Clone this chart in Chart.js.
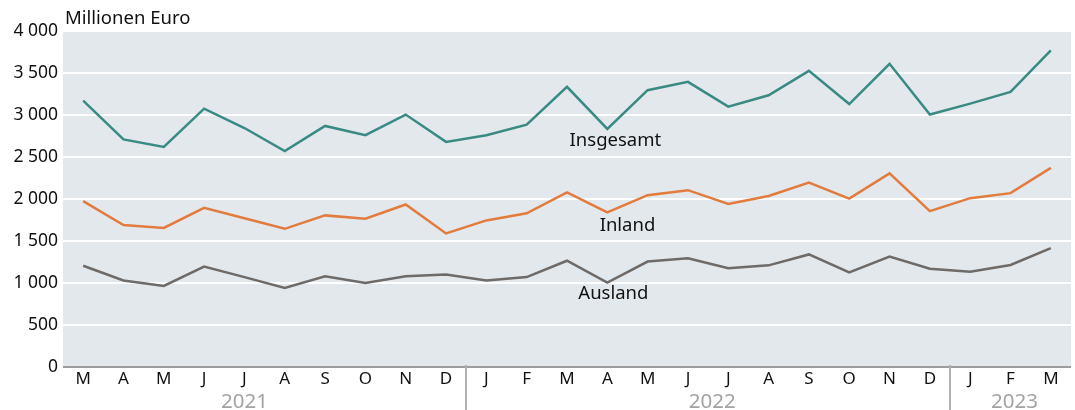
<!DOCTYPE html>
<html>
<head>
<meta charset="utf-8">
<script src="https://cdn.jsdelivr.net/npm/chart.js@4"></script>
<style>
  html, body { margin: 0; padding: 0; background: #fff; }
  #wrap { width: 1075px; height: 410px; position: relative; }
</style>
</head>
<body>
<div id="wrap"><canvas id="myChart" width="1075" height="410"></canvas></div>
<script>
// Monate März 2021 bis März 2023
var labels = ["M","A","M","J","J","A","S","O","N","D","J","F","M","A","M","J","J","A","S","O","N","D","J","F","M"];
// Jahre
var years = ["2021", "2022", "2023"];
// Insgesamt (Millionen Euro)
var insgesamt = [3170, 2710, 2620, 3075, 2845, 2570, 2870, 2760, 3005, 2680, 2760, 2885,
                 3335, 2835, 3295, 3395, 3100, 3235, 3525, 3130, 3610, 3005, 3135, 3275, 3770];
// Inland
var inland = [1975, 1690, 1655, 1895, 1770, 1645, 1805, 1765, 1935, 1590, 1745, 1830,
              2080, 1840, 2045, 2105, 1940, 2035, 2195, 2005, 2305, 1855, 2010, 2070, 2370];
// Ausland
var ausland = [1205, 1030, 965, 1195, 1070, 940, 1080, 1000, 1080, 1100, 1030, 1070,
               1265, 1005, 1255, 1295, 1175, 1210, 1340, 1125, 1315, 1170, 1135, 1215, 1415];
// y-Achse
var yTicks = [0, 500, 1000, 1500, 2000, 2500, 3000, 3500, 4000];

var FONT = "'Noto Sans', 'Open Sans', sans-serif";

function fmt(v) {
    return String(v).replace(/\B(?=(\d{3})+(?!\d))/g, ' ');
}

var deko = {
    id: 'deko',
    beforeDraw: function (chart) {
        var c = chart.ctx, a = chart.chartArea;
        c.save();
        c.fillStyle = '#e3e8ec';
        c.fillRect(a.left, a.top, a.right - a.left, a.bottom - a.top);
        c.restore();
    },
    afterDatasetsDraw: function (chart) {
        var c = chart.ctx, x = chart.scales.x, y = chart.scales.y, a = chart.chartArea;
        c.save();
        // Einheit
        c.font = '18.5px ' + FONT;
        c.fillStyle = '#111';
        c.textAlign = 'left';
        c.textBaseline = 'middle';
        c.fillText('Millionen Euro', 65, 19);
        // Reihenbeschriftungen
        c.textAlign = 'center';
        c.font = '18.5px ' + FONT;
        [['Insgesamt', 13.2, 2690], ['Inland', 13.5, 1680], ['Ausland', 13.15, 870]].forEach(function (t) {
            c.fillText(t[0], x.getPixelForValue(t[1]), y.getPixelForValue(t[2]));
        });
        // Jahrestrenner
        c.strokeStyle = '#b0b0b0';
        c.lineWidth = 2;
        [9.5, 21.5].forEach(function (p) {
            var px = Math.round(x.getPixelForValue(p));
            c.beginPath();
            c.moveTo(px, a.bottom - 2);
            c.lineTo(px, 410);
            c.stroke();
        });
        // Jahre
        c.fillStyle = '#a3a3a3';
        c.font = '20.5px ' + FONT;
        var centers = [4, 15.6, 23.1];
        years.forEach(function (yr, i) {
            c.fillText(yr, x.getPixelForValue(centers[i]), 402);
        });
        c.restore();
    }
};

var ctx = document.getElementById("myChart");
var myChart = new Chart(ctx, {
    type: 'line',
    data: {
        labels: labels,
        datasets: [
            { label: 'Insgesamt', data: insgesamt, borderColor: '#3a8a84', borderWidth: 2.5 },
            { label: 'Inland', data: inland, borderColor: '#e27c3e', borderWidth: 2.5 },
            { label: 'Ausland', data: ausland, borderColor: '#6e6a67', borderWidth: 2.5 }
        ]
    },
    options: {
        responsive: false,
        animation: false,
        devicePixelRatio: 1,
        layout: { padding: { top: 31, right: 4, left: 0, bottom: 0 } },
        elements: { point: { radius: 0 }, line: { tension: 0, borderCapStyle: 'butt' } },
        plugins: { legend: { display: false }, tooltip: { enabled: false } },
        scales: {
            x: {
                offset: true,
                grid: { display: false, drawTicks: false },
                border: { display: false },
                ticks: { color: '#111', font: { family: FONT, size: 17 }, padding: 2, maxRotation: 0, autoSkip: false },
                afterFit: function (s) { s.height = 43; }
            },
            y: {
                min: 0,
                max: 4000,
                afterBuildTicks: function (s) { s.ticks = yTicks.map(function (v) { return { value: v }; }); },
                grid: {
                    drawTicks: false,
                    lineWidth: 2,
                    color: function (g) { return g.tick && g.tick.value === 0 ? '#9c9c9c' : '#ffffff'; }
                },
                border: { display: false },
                ticks: {
                    color: '#111',
                    font: { family: FONT, size: 17.5 },
                    padding: 5,
                    callback: function (v) { return fmt(v); }
                },
                afterFit: function (s) { s.width = 63; }
            }
        }
    },
    plugins: [deko]
});
</script>
</body>
</html>
